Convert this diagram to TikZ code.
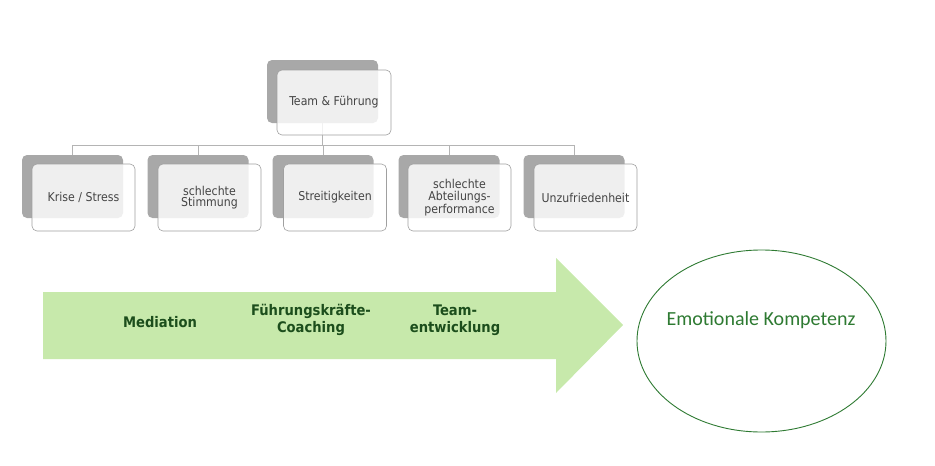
\documentclass[tikz,border=0pt]{standalone}
\usepackage{fontspec}
\usetikzlibrary{shapes.geometric}
\setmainfont{DejaVu Sans Condensed}
\newfontfamily\calib{Carlito}
\definecolor{shadowgray}{HTML}{A8A8A8}
\definecolor{boxline}{HTML}{A0A0A0}
\definecolor{linegray}{HTML}{B4B4B4}
\definecolor{boxtext}{HTML}{444444}
\definecolor{arrowgreen}{HTML}{C7E9AB}
\definecolor{darkgreen}{HTML}{1C4E1C}
\definecolor{circgreen}{HTML}{2E7A32}
\begin{document}
\begin{tikzpicture}[x=1pt,y=-1pt,
  shadowbox/.style={fill=shadowgray,rounded corners=5pt,minimum width=101pt,minimum height=63pt,inner sep=0pt},
  frontbox/.style={draw=boxline,line width=0.6pt,fill=white,fill opacity=0.82,text opacity=1,rounded corners=5pt,minimum width=103pt,minimum height=67pt,inner sep=0pt,text=boxtext,font=\fontsize{12.2}{11.5}\selectfont,align=center},
  conn/.style={draw=linegray,line width=0.8pt},
  steptext/.style={text=darkgreen,font=\fontsize{14.6}{17}\bfseries\selectfont,align=center}]
\useasboundingbox (0,0) rectangle (935,466);
% top
\node[shadowbox,minimum width=111pt,minimum height=63pt] (tsh) at (322.5,91.5) {};
% children shadows
\node[shadowbox] (s1) at (72.5,186.5) {};
\node[shadowbox] (s2) at (198,186.5) {};
\node[shadowbox] (s3) at (323,186.5) {};
\node[shadowbox] (s4) at (449,186.5) {};
\node[shadowbox] (s5) at (574,186.5) {};
% connectors
\foreach \c in {s1,s2,s3,s4,s5}{
  \draw[conn] (tsh.south) -- ++(0,22) -| (\c.north);
}
% front boxes
\node[frontbox,minimum width=114pt,minimum height=65pt] (tf) at (334,102.5) {Team \& Führung};
\node[frontbox] (f1) at (83.5,197.5) {Krise / Stress};
\node[frontbox] (f2) at (209.5,197.5) {schlechte\\Stimmung};
\node[frontbox] (f3) at (335,197.5) {Streitigkeiten};
\node[frontbox] (f4) at (459.5,197.5) {schlechte\\Abteilungs-\\performance};
\node[frontbox] (f5) at (585.5,197.5) {Unzufriedenheit};
% arrow
\fill[arrowgreen] (43,292) -- (556,292) -- (556,258) -- (623,325) -- (556,393) -- (556,359) -- (43,359) -- cycle;
\node[steptext] (m1) at (160,322) {Mediation};
\node[steptext] (m2) at (311,320) {Führungskräfte-\\Coaching};
\node[steptext] (m3) at (455,320) {Team-\\entwicklung};
% circle
\node[draw=circgreen,line width=0.9pt,ellipse,minimum width=249pt,minimum height=182pt,inner sep=0pt] (ek) at (761.5,341) {};
\node[text=circgreen,font=\calib\fontsize{20}{22}\selectfont] (ekt) at (761,320) {Emotionale Kompetenz};
\end{tikzpicture}
\end{document}
